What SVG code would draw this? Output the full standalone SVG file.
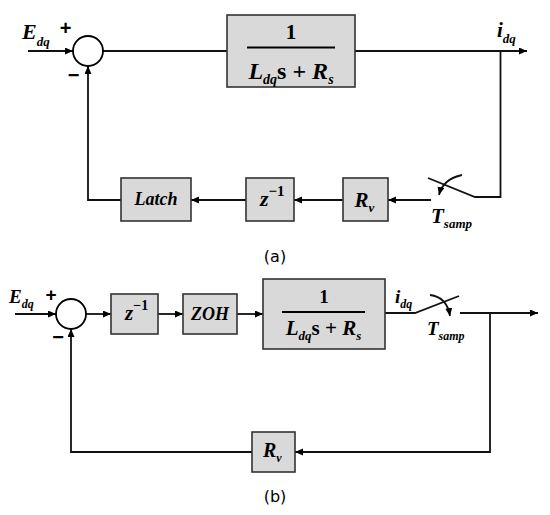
<svg xmlns="http://www.w3.org/2000/svg" width="550" height="515" viewBox="0 0 550 515">
<style>
.blk{fill:#d9d9d9;stroke:#333;stroke-width:1.6}
.sum{fill:#fff;stroke:#000;stroke-width:1.8}
.ln{fill:none;stroke:#111;stroke-width:1.8}
.lna{fill:none;stroke:#111;stroke-width:1.8;marker-end:url(#ah)}
.v{font-family:"Liberation Serif","Times New Roman",serif;font-weight:bold;font-style:italic;fill:#000}
.n{font-family:"Liberation Serif","Times New Roman",serif;font-weight:bold;fill:#000}
.r{font-family:"Liberation Serif","Times New Roman",serif;fill:#000}
.s{font-family:"Liberation Sans",Arial,sans-serif;font-weight:bold;fill:#000}
.cap{font-family:"DejaVu Sans","Liberation Sans",sans-serif;font-size:16px;fill:#000}
</style>
<defs>
<marker id="ah" markerUnits="userSpaceOnUse" markerWidth="10" markerHeight="8" refX="8" refY="3.5" orient="auto">
<path d="M0,0 L8,3.5 L0,7 Z" fill="#000"/>
</marker>
</defs>

<g id="connectors">
<!-- (a) -->
<path class="lna" d="M28 51 H73"/>
<path class="ln" d="M103 51 H227"/>
<path class="lna" d="M355 51 H527"/>
<path class="ln" d="M500.5 51 V197 H475 L428 178"/>
<path class="lna" d="M462 175 Q443 179 439 195"/>
<path class="lna" d="M431 200 H388"/>
<path class="lna" d="M343 200 H294"/>
<path class="lna" d="M246 200 H191"/>
<path class="lna" d="M121 200 H88 V66"/>
<!-- (b) -->
<path class="lna" d="M15 314 H56"/>
<path class="lna" d="M86 314 H111"/>
<path class="lna" d="M158 314 H183"/>
<path class="lna" d="M237 314 H263"/>
<path class="ln" d="M385 313 H415 L459 296"/>
<path class="lna" d="M430 295 Q447 297 450 316"/>
<path class="lna" d="M460 313 H538"/>
<path class="lna" d="M490 313 V452 H295"/>
<path class="lna" d="M252 452 H71 V329"/>
</g>

<!-- (a) nodes -->
<g id="a-sum">
<circle class="sum" cx="88" cy="51" r="15"/>
<text class="s" x="65.5" y="35" font-size="20" text-anchor="middle">+</text>
<text class="s" x="73.5" y="82" font-size="20" text-anchor="middle">−</text>
</g>
<g id="a-input-label">
<text class="v" x="22" y="39" font-size="22">E<tspan font-size="13" dy="7">dq</tspan></text>
</g>
<g id="a-plant">
<rect class="blk" x="227" y="15" width="128" height="72"/>
<text class="n" x="291" y="39" font-size="21" text-anchor="middle">1</text>
<line x1="247" y1="47.5" x2="335" y2="47.5" stroke="#000" stroke-width="1.8"/>
<text class="v" x="291" y="79" font-size="24" text-anchor="middle">L<tspan font-size="14" dy="5">dq</tspan><tspan class="n" font-style="normal" dy="-5">s + </tspan>R<tspan font-size="14" dy="5">s</tspan></text>
</g>
<g id="a-output-label">
<text class="v" x="497" y="37" font-size="21">i<tspan font-size="13" dy="6">dq</tspan></text>
</g>
<g id="a-switch-label">
<text class="v" x="431" y="223" font-size="21">T<tspan font-size="13" dy="5">samp</tspan></text>
</g>
<g id="a-Rv">
<rect class="blk" x="343" y="178" width="45" height="43"/>
<text class="v" x="354.5" y="207" font-size="21">R<tspan font-size="13" dy="5">v</tspan></text>
</g>
<g id="a-zinv">
<rect class="blk" x="246" y="178" width="48" height="43"/>
<text class="v" x="260" y="206" font-size="22">z<tspan class="r" font-style="normal" font-size="15" dy="-10">−1</tspan></text>
</g>
<g id="a-latch">
<rect class="blk" x="121" y="178" width="70" height="43"/>
<text class="v" x="156" y="205" font-size="18" text-anchor="middle">Latch</text>
</g>
<text class="cap" x="275" y="262" text-anchor="middle">(a)</text>

<!-- (b) nodes -->
<g id="b-sum">
<circle class="sum" cx="71" cy="314" r="15"/>
<text class="s" x="51" y="301" font-size="19" text-anchor="middle">+</text>
<text class="s" x="58" y="344" font-size="20" text-anchor="middle">−</text>
</g>
<g id="b-input-label">
<text class="v" x="9" y="303" font-size="19">E<tspan font-size="12" dy="5">dq</tspan></text>
</g>
<g id="b-zinv">
<rect class="blk" x="111" y="294" width="47" height="40"/>
<text class="v" x="125" y="320" font-size="21">z<tspan class="r" font-style="normal" font-size="14" dy="-10">−1</tspan></text>
</g>
<g id="b-zoh">
<rect class="blk" x="183" y="294" width="54" height="40"/>
<text class="v" x="210" y="320" font-size="18" text-anchor="middle">ZOH</text>
</g>
<g id="b-plant">
<rect class="blk" x="263" y="279" width="122" height="70"/>
<text class="n" x="324" y="303" font-size="19" text-anchor="middle">1</text>
<line x1="282" y1="312" x2="365" y2="312" stroke="#000" stroke-width="1.8"/>
<text class="v" x="323.5" y="335" font-size="21" text-anchor="middle">L<tspan font-size="13" dy="5">dq</tspan><tspan class="n" font-style="normal" dy="-5">s + </tspan>R<tspan font-size="13" dy="5">s</tspan></text>
</g>
<g id="b-output-label">
<text class="v" x="395" y="303" font-size="19">i<tspan font-size="12" dy="5">dq</tspan></text>
</g>
<g id="b-switch-label">
<text class="v" x="427" y="335" font-size="19">T<tspan font-size="12" dy="5">samp</tspan></text>
</g>
<g id="b-Rv">
<rect class="blk" x="252" y="432" width="43" height="40"/>
<text class="v" x="263" y="457" font-size="20">R<tspan font-size="12" dy="5">v</tspan></text>
</g>
<text class="cap" x="275" y="502" text-anchor="middle">(b)</text>
</svg>
